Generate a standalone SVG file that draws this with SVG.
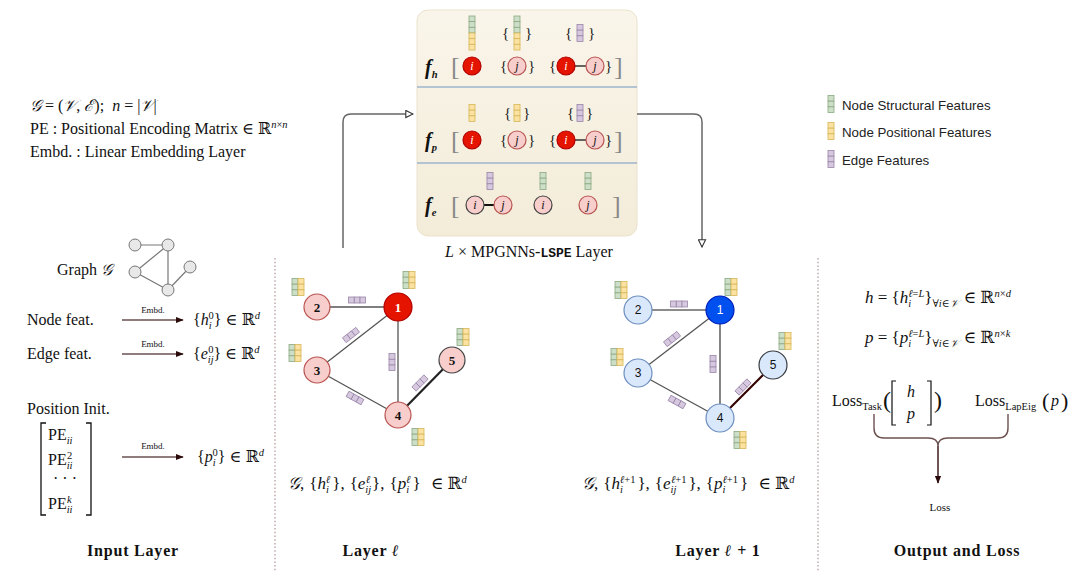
<svg xmlns="http://www.w3.org/2000/svg" width="1080" height="578" viewBox="0 0 1080 578">
<style>
text{font-family:"Liberation Serif","DejaVu Serif",serif;fill:#111}
.t{font-size:16px}
.t15{font-size:16px}
.t17{font-size:17px}
.it{font-style:italic}
.sb{font-size:10.5px;baseline-shift:-4px}
.sp{font-size:10.5px;baseline-shift:6px}
.emb{font-size:9px;text-anchor:middle}
.hd{font-weight:bold;font-size:16px;text-anchor:middle;letter-spacing:0.8px}
.leg{font-family:"Liberation Sans",Arial,sans-serif;font-size:13.3px;fill:#222}
.gc{fill:#cddfc8;stroke:#8aa882;stroke-width:0.8}
.yc{fill:#fbe2a3;stroke:#d6b656;stroke-width:0.8}
.pc{fill:#d6c9df;stroke:#9a84a8;stroke-width:0.8}
.np{fill:#f8cecc;stroke:#b85450;stroke-width:1.2}
.npd{fill:#f8cecc;stroke:#444;stroke-width:1.2}
.nr{fill:#e51400;stroke:#b20000;stroke-width:1.2}
.nb{fill:#dae8fc;stroke:#6c8ebf;stroke-width:1.2}
.nbd{fill:#dae8fc;stroke:#36393d;stroke-width:1.2}
.nB{fill:#0050ef;stroke:#001dbc;stroke-width:1.2}
.lbl{font-size:13px;font-weight:bold;text-anchor:middle}
.lbls{font-family:"Liberation Sans",Arial,sans-serif;font-size:12px;text-anchor:middle}
.ni{font-size:12px;font-style:italic;text-anchor:middle}
.brk{font-size:26px;fill:#888}
.br{font-size:15px;fill:#222}
.fl{font-size:20px;font-style:italic;font-weight:bold}
.ed{stroke:#555;stroke-width:1.3;fill:none}
.edb{stroke:#666;stroke-width:1.6;fill:none}
.sep{stroke:#9db4cc;stroke-width:1.5}
.dot{stroke:#b09595;stroke-width:1.2;stroke-dasharray:1.5 2.2}
.gr{fill:#e8e8e8;stroke:#777;stroke-width:1}
</style>
<defs>
<linearGradient id="bg" x1="0" y1="0" x2="0" y2="1"><stop offset="0" stop-color="#faf5ea"/><stop offset="1" stop-color="#f3ecd9"/></linearGradient>
<g id="colG"><rect class="gc" x="-3" y="-8.5" width="6" height="5.67"/><rect class="gc" x="-3" y="-2.83" width="6" height="5.67"/><rect class="gc" x="-3" y="2.83" width="6" height="5.67"/></g>
<g id="colY"><rect class="yc" x="-3" y="-8.5" width="6" height="5.67"/><rect class="yc" x="-3" y="-2.83" width="6" height="5.67"/><rect class="yc" x="-3" y="2.83" width="6" height="5.67"/></g>
<g id="colP"><rect class="pc" x="-3" y="-8.5" width="6" height="5.67"/><rect class="pc" x="-3" y="-2.83" width="6" height="5.67"/><rect class="pc" x="-3" y="2.83" width="6" height="5.67"/></g>
<g id="fpair"><use href="#colG" x="-3"/><use href="#colY" x="3"/></g>
<g id="ebar"><use href="#colP" transform="rotate(90)"/></g>
<marker id="open" viewBox="0 0 10 10" refX="9" refY="5" markerWidth="9" markerHeight="9" orient="auto" markerUnits="userSpaceOnUse"><path d="M1,1 L9,5 L1,9 Z" fill="#fff" stroke="#333" stroke-width="1.2"/></marker>
<marker id="fill" viewBox="0 0 10 10" refX="9" refY="5" markerWidth="8" markerHeight="8" orient="auto" markerUnits="userSpaceOnUse"><path d="M0,1 L10,5 L0,9 Z" fill="#2a0a0a"/></marker>
</defs>
<rect width="1080" height="578" fill="#fff"/>

<!-- definitions text -->
<g id="defs-text">
<text x="30" y="111" class="t"><tspan class="it">𝒢</tspan> = (<tspan class="it">𝒱</tspan>, <tspan class="it">ℰ</tspan>);<tspan dx="8" class="it">n</tspan> = |<tspan class="it">𝒱</tspan>|</text>
<text x="30" y="134" class="t">PE : Positional Encoding Matrix ∈ ℝ<tspan class="sp"><tspan class="it">n</tspan>×<tspan class="it">n</tspan></tspan></text>
<text x="30" y="157" class="t">Embd. : Linear Embedding Layer</text>
</g>

<!-- legend -->
<g id="legend">
<use href="#colG" x="831" y="104"/><text x="842" y="110" class="leg">Node Structural Features</text>
<use href="#colY" x="831" y="131"/><text x="842" y="137" class="leg">Node Positional Features</text>
<use href="#colP" x="831" y="159"/><text x="842" y="165" class="leg">Edge Features</text>
</g>

<!-- top box -->
<g id="mpgnn-box">
<rect x="417" y="10" width="220" height="226" rx="11" fill="url(#bg)" stroke="#ebe2cc" stroke-width="1"/>
<line class="sep" x1="417" y1="87" x2="637" y2="87"/>
<line class="sep" x1="417" y1="163" x2="637" y2="163"/>
<!-- f_h row -->
<text x="425" y="74" class="fl">f<tspan class="sb">h</tspan></text>
<text x="451" y="75" class="brk">[</text><text x="614" y="75" class="brk">]</text>
<use href="#colG" x="472" y="24.5"/><use href="#colY" x="472" y="41.5"/>
<text x="502" y="38" class="br">{</text><use href="#colG" x="517" y="24.5"/><use href="#colY" x="517" y="41.5"/><text x="525" y="38" class="br">}</text>
<text x="565" y="38" class="br">{</text><use href="#colP" x="580" y="33"/><text x="588" y="38" class="br">}</text>
<circle class="nr" cx="472" cy="66" r="9"/><text x="472" y="70" class="ni" style="fill:#fff">i</text>
<text x="500" y="71" class="br">{</text><circle class="np" cx="517" cy="66" r="9"/><text x="517" y="70" class="ni">j</text><text x="528" y="71" class="br">}</text>
<text x="549" y="71" class="br">{</text><line x1="574" y1="66" x2="586" y2="66" stroke="#333" stroke-width="1.5"/><circle class="nr" cx="566" cy="66" r="9"/><text x="566" y="70" class="ni" style="fill:#fff">i</text><circle class="np" cx="595" cy="66" r="9"/><text x="595" y="70" class="ni">j</text><text x="605" y="71" class="br">}</text>
<!-- f_p row -->
<text x="425" y="147" class="fl">f<tspan class="sb">p</tspan></text>
<text x="451" y="149" class="brk">[</text><text x="614" y="149" class="brk">]</text>
<use href="#colY" x="472" y="113"/>
<text x="504" y="118" class="br">{</text><use href="#colY" x="517" y="113"/><text x="523" y="118" class="br">}</text>
<text x="567" y="118" class="br">{</text><use href="#colP" x="580" y="113"/><text x="586" y="118" class="br">}</text>
<circle class="nr" cx="472" cy="140" r="9"/><text x="472" y="144" class="ni" style="fill:#fff">i</text>
<text x="500" y="145" class="br">{</text><circle class="np" cx="517" cy="140" r="9"/><text x="517" y="144" class="ni">j</text><text x="528" y="145" class="br">}</text>
<text x="549" y="145" class="br">{</text><line x1="574" y1="140" x2="586" y2="140" stroke="#333" stroke-width="1.5"/><circle class="nr" cx="566" cy="140" r="9"/><text x="566" y="144" class="ni" style="fill:#fff">i</text><circle class="np" cx="595" cy="140" r="9"/><text x="595" y="144" class="ni">j</text><text x="605" y="145" class="br">}</text>
<!-- f_e row -->
<text x="425" y="212" class="fl">f<tspan class="sb">e</tspan></text>
<text x="451" y="214" class="brk">[</text><text x="612" y="214" class="brk">]</text>
<use href="#colP" x="490" y="181"/><use href="#colG" x="543" y="181"/><use href="#colG" x="588" y="181"/>
<line x1="484" y1="205" x2="494" y2="205" stroke="#111" stroke-width="2"/>
<circle class="npd" cx="475" cy="205" r="9"/><text x="475" y="209" class="ni">i</text>
<circle class="np" cx="503" cy="205" r="9"/><text x="503" y="209" class="ni">j</text>
<circle class="npd" cx="543" cy="205" r="9"/><text x="543" y="209" class="ni">i</text>
<circle class="np" cx="588" cy="205" r="9"/><text x="588" y="209" class="ni">j</text>
<text x="529" y="257" class="t" text-anchor="middle"><tspan class="it">L</tspan> × MPGNNs-<tspan font-family="Liberation Mono,monospace" font-size="13" font-weight="bold">LSPE</tspan> Layer</text>
</g>

<!-- separators -->
<line class="dot" x1="275" y1="258" x2="275" y2="572"/>
<line class="dot" x1="818" y1="258" x2="818" y2="572"/>

<!-- input layer -->
<g id="input-layer">
<text x="57" y="275" class="t">Graph <tspan class="it">𝒢</tspan></text>
<g stroke="#777" stroke-width="1.2">
<line x1="135" y1="245" x2="168" y2="245"/><line x1="168" y1="245" x2="135" y2="272"/><line x1="168" y1="245" x2="168" y2="290"/><line x1="135" y1="272" x2="168" y2="290"/><line x1="168" y1="290" x2="190" y2="267"/>
</g>
<circle class="gr" cx="135" cy="245" r="6"/><circle class="gr" cx="168" cy="245" r="6"/><circle class="gr" cx="135" cy="272" r="6"/><circle class="gr" cx="190" cy="267" r="6"/><circle class="gr" cx="168" cy="290" r="6"/>
<text x="27" y="325" class="t">Node feat.</text>
<text x="153" y="313" class="emb">Embd.</text>
<text x="193" y="325" class="t">{<tspan class="it">h</tspan><tspan class="sb it">i</tspan><tspan class="sp" dx="-3">0</tspan>} ∈ ℝ<tspan class="sp it">d</tspan></text>
<text x="27" y="359" class="t">Edge feat.</text>
<text x="153" y="347" class="emb">Embd.</text>
<text x="193" y="359" class="t">{<tspan class="it">e</tspan><tspan class="sb it">ij</tspan><tspan class="sp" dx="-5.5">0</tspan>} ∈ ℝ<tspan class="sp it">d</tspan></text>
<text x="27" y="414" class="t">Position Init.</text>
<path d="M46,423 H41 V515 H46 M86,423 H91 V515 H86" fill="none" stroke="#111" stroke-width="1.3"/>
<text x="48" y="440" class="t">PE<tspan class="sb it">ii</tspan></text>
<text x="48" y="465" class="t">PE<tspan class="sb it">ii</tspan><tspan class="sp" dx="-5.5">2</tspan></text>
<text x="65" y="484" class="t" text-anchor="middle">· · ·</text>
<text x="48" y="509" class="t">PE<tspan class="sb it">ii</tspan><tspan class="sp it" dx="-5.5">k</tspan></text>
<text x="153" y="449" class="emb">Embd.</text>
<text x="197" y="462" class="t">{<tspan class="it">p</tspan><tspan class="sb it">i</tspan><tspan class="sp" dx="-3">0</tspan>} ∈ ℝ<tspan class="sp it">d</tspan></text>
<text x="133" y="556" class="hd">Input Layer</text>
</g>

<!-- connectors -->
<g id="connectors" fill="none">
<path d="M343,248 V122 Q343,114 351,114 H413" stroke="#666" stroke-width="1.5" marker-end="url(#open)"/>
<path d="M637,114 H694 Q702,114 702,122 V247" stroke="#666" stroke-width="1.5" marker-end="url(#open)"/>
<line x1="122" y1="320" x2="183" y2="320" stroke="#6a5050" stroke-width="1.6" marker-end="url(#fill)"/>
<line x1="122" y1="354" x2="183" y2="354" stroke="#6a5050" stroke-width="1.6" marker-end="url(#fill)"/>
<line x1="122" y1="457" x2="183" y2="457" stroke="#6a5050" stroke-width="1.6" marker-end="url(#fill)"/>
<path d="M874,414 V428 Q874,438 884,438 H928 Q938,438 938,446 M1008,414 V428 Q1008,438 998,438 H948 Q938,438 938,446" stroke="#6d5050" stroke-width="1.4"/>
<line x1="938" y1="446" x2="938" y2="483" stroke="#4a2a2a" stroke-width="1.6" marker-end="url(#fill)"/>
</g>

<!-- layer l graph -->
<g id="layer-l">
<line class="ed" x1="317" y1="307" x2="398" y2="307"/>
<line class="ed" x1="398" y1="307" x2="317" y2="370"/>
<line class="ed" x1="398" y1="307" x2="398" y2="415"/>
<line class="ed" x1="317" y1="370" x2="398" y2="415"/>
<line x1="398" y1="415" x2="452" y2="360" stroke="#222" stroke-width="2.2"/>
<g id="l-n2"><circle class="np" cx="317" cy="307" r="13"/><text x="317" y="312" class="lbl">2</text></g>
<g id="l-n1"><circle class="nr" cx="398" cy="307" r="14"/><text x="398" y="312" class="lbl" style="fill:#fff">1</text></g>
<g id="l-n3"><circle class="np" cx="317" cy="370" r="13"/><text x="317" y="375" class="lbl">3</text></g>
<g id="l-n4"><circle class="np" cx="398" cy="415" r="13"/><text x="398" y="420" class="lbl">4</text></g>
<g id="l-n5"><circle class="npd" cx="452" cy="360" r="13"/><text x="452" y="365" class="lbl">5</text></g>
<use href="#fpair" x="298" y="287"/><use href="#fpair" x="409" y="280"/><use href="#fpair" x="295" y="353"/><use href="#fpair" x="463" y="337"/><use href="#fpair" x="418" y="437"/>
<use href="#ebar" transform="translate(357,300)"/>
<use href="#ebar" transform="translate(351,335) rotate(-38)"/>
<use href="#ebar" transform="translate(392,362) rotate(90)"/>
<use href="#ebar" transform="translate(355,398) rotate(29)"/>
<use href="#ebar" transform="translate(420,383) rotate(-45)"/>
<text x="288" y="489" class="t17"><tspan class="it">𝒢</tspan>,<tspan dx="5">{</tspan><tspan class="it">h</tspan><tspan class="sb it">i</tspan><tspan class="sp it" dx="-3">ℓ</tspan><tspan dx="2">},</tspan><tspan dx="5">{</tspan><tspan class="it">e</tspan><tspan class="sb it">ij</tspan><tspan class="sp it" dx="-5.5">ℓ</tspan><tspan dx="2">},</tspan><tspan dx="5">{</tspan><tspan class="it">p</tspan><tspan class="sb it">i</tspan><tspan class="sp it" dx="-3">ℓ</tspan><tspan dx="2">}</tspan><tspan dx="10">∈ ℝ</tspan><tspan class="sp it">d</tspan></text>
<text x="371" y="556" class="hd">Layer <tspan class="it">ℓ</tspan></text>
</g>

<!-- layer l+1 graph -->
<g id="layer-l1">
<line class="edb" x1="638" y1="310" x2="720" y2="310"/>
<line class="ed" x1="720" y1="310" x2="638" y2="373"/>
<line class="edb" x1="720" y1="310" x2="720" y2="418"/>
<line class="ed" x1="638" y1="373" x2="720" y2="418"/>
<line x1="720" y1="418" x2="773" y2="365" stroke="#330000" stroke-width="2.2"/>
<g id="m-n2"><circle class="nb" cx="638" cy="310" r="14"/><text x="638" y="314" class="lbls">2</text></g>
<g id="m-n1"><circle class="nB" cx="720" cy="310" r="14"/><text x="720" y="314" class="lbls" style="fill:#fff">1</text></g>
<g id="m-n3"><circle class="nb" cx="638" cy="373" r="14"/><text x="638" y="377" class="lbls">3</text></g>
<g id="m-n4"><circle class="nb" cx="720" cy="418" r="14"/><text x="720" y="422" class="lbls">4</text></g>
<g id="m-n5"><circle class="nbd" cx="773" cy="365" r="14"/><text x="773" y="369" class="lbls">5</text></g>
<use href="#fpair" x="621" y="290"/><use href="#fpair" x="731" y="287"/><use href="#fpair" x="617" y="357"/><use href="#fpair" x="785" y="341"/><use href="#fpair" x="740" y="440"/>
<use href="#ebar" transform="translate(679,304)"/>
<use href="#ebar" transform="translate(672,339) rotate(-38)"/>
<use href="#ebar" transform="translate(713,364) rotate(90)"/>
<use href="#ebar" transform="translate(677,402) rotate(29)"/>
<use href="#ebar" transform="translate(743,387) rotate(-45)"/>
<text x="582" y="489" class="t17"><tspan class="it">𝒢</tspan>,<tspan dx="5">{</tspan><tspan class="it">h</tspan><tspan class="sb it">i</tspan><tspan class="sp" dx="-3"><tspan class="it">ℓ</tspan>+1</tspan><tspan dx="2">},</tspan><tspan dx="5">{</tspan><tspan class="it">e</tspan><tspan class="sb it">ij</tspan><tspan class="sp" dx="-5.5"><tspan class="it">ℓ</tspan>+1</tspan><tspan dx="2">},</tspan><tspan dx="5">{</tspan><tspan class="it">p</tspan><tspan class="sb it">i</tspan><tspan class="sp" dx="-3"><tspan class="it">ℓ</tspan>+1</tspan><tspan dx="2">}</tspan><tspan dx="10">∈ ℝ</tspan><tspan class="sp it">d</tspan></text>
<text x="718" y="556" class="hd">Layer <tspan class="it">ℓ</tspan> + 1</text>
</g>

<!-- output -->
<g id="output">
<text x="865" y="303" class="t17"><tspan class="it">h</tspan> = {<tspan class="it">h</tspan><tspan class="sb it">i</tspan><tspan class="sp" dx="-3"><tspan class="it">ℓ</tspan>=<tspan class="it">L</tspan></tspan>}<tspan class="sb">∀<tspan class="it">i</tspan>∈<tspan class="it">𝒱</tspan></tspan><tspan dx="5">∈ ℝ</tspan><tspan class="sp"><tspan class="it">n</tspan>×<tspan class="it">d</tspan></tspan></text>
<text x="865" y="343" class="t17"><tspan class="it">p</tspan> = {<tspan class="it">p</tspan><tspan class="sb it">i</tspan><tspan class="sp" dx="-3"><tspan class="it">ℓ</tspan>=<tspan class="it">L</tspan></tspan>}<tspan class="sb">∀<tspan class="it">i</tspan>∈<tspan class="it">𝒱</tspan></tspan><tspan dx="5">∈ ℝ</tspan><tspan class="sp"><tspan class="it">n</tspan>×<tspan class="it">k</tspan></tspan></text>
<text x="832" y="406" class="t15">Loss<tspan class="sb">Task</tspan></text>
<text x="883" y="408" font-size="24" fill="#111">(</text>
<path d="M896,381 H892 V425 H896 M927,381 H931 V425 H927" fill="none" stroke="#111" stroke-width="1.2"/>
<text x="911" y="397" class="t15 it" text-anchor="middle">h</text>
<text x="911" y="419" class="t15 it" text-anchor="middle">p</text>
<text x="934" y="408" font-size="24" fill="#111">)</text>
<text x="975" y="406" class="t15">Loss<tspan class="sb">LapEig</tspan></text>
<text x="1042" y="408" font-size="22" fill="#111">(</text>
<text x="1051" y="406" class="t15 it">p</text>
<text x="1061" y="408" font-size="22" fill="#111">)</text>
<text x="940" y="511" font-size="11" text-anchor="middle">Loss</text>
<text x="957" y="556" class="hd">Output and Loss</text>
</g>
</svg>
